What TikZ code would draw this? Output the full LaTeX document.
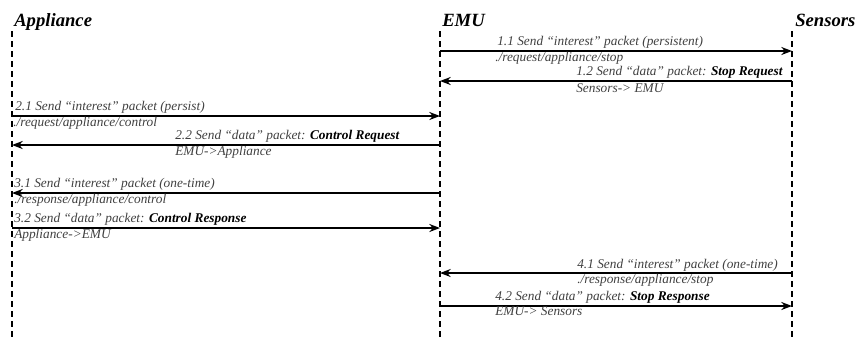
\documentclass[tikz,border=0pt]{standalone}
\usepackage{fontspec}
\setmainfont{Liberation Serif}
\usetikzlibrary{arrows.meta}
\begin{document}
\begin{tikzpicture}[x=0.75pt,y=-0.75pt,
 title/.style={font=\fontsize{14}{16}\selectfont\bfseries\itshape, anchor=base west, inner sep=0},
 lifeline/.style={line width=1.5pt, dash pattern=on 4.5pt off 3pt},
 msg/.style={line width=2pt, -{Stealth[length=8pt,width=6pt]}},
 lbl/.style={font=\fontsize{10}{12}\selectfont\itshape, text=black!75, anchor=base west, inner sep=0}]
\useasboundingbox (0,0) rectangle (857,337);
% titles
\node[title] (app) at (14,26) {Appliance};
\node[title] (emu) at (442,26) {EMU};
\node[title] (sen) at (795,26) {Sensors};
% lifelines
\coordinate (appT) at (12,31); \coordinate (appB) at (12,337);
\coordinate (emuT) at (440,31); \coordinate (emuB) at (440,337);
\coordinate (senT) at (792,31); \coordinate (senB) at (792,337);
\draw[lifeline] (appT) -- (appB);
\draw[lifeline] (emuT) -- (emuB);
\draw[lifeline] (senT) -- (senB);
% message endpoints
\coordinate (e11) at (440,51); \coordinate (s11) at (792,51);
\coordinate (e12) at (440,81); \coordinate (s12) at (792,81);
\coordinate (a21) at (12,116); \coordinate (e21) at (440,116);
\coordinate (a22) at (12,145); \coordinate (e22) at (440,145);
\coordinate (a31) at (12,193); \coordinate (e31) at (440,193);
\coordinate (a32) at (12,228); \coordinate (e32) at (440,228);
\coordinate (e41) at (440,273); \coordinate (s41) at (792,273);
\coordinate (e42) at (440,306); \coordinate (s42) at (792,306);
% messages
\draw[msg] (e11) -- (s11);
\draw[msg] (s12) -- (e12);
\draw[msg] (a21) -- (e21);
\draw[msg] (e22) -- (a22);
\draw[msg] (e31) -- (a31);
\draw[msg] (a32) -- (e32);
\draw[msg] (s41) -- (e41);
\draw[msg] (e42) -- (s42);
% labels
\node[lbl] (l11) at (497,45) {1.1 Send “interest” packet (persistent)};
\node[lbl] (p11) at (495,61) {./request/appliance/stop};
\node[lbl] (l12) at (576,75) {1.2 Send “data” packet: \textbf{\color{black}Stop Request}};
\node[lbl] (p12) at (576,92) {Sensors-> EMU};
\node[lbl] (l21) at (15,110) {2.1 Send “interest” packet (persist)};
\node[lbl] (p21) at (13,126) {./request/appliance/control};
\node[lbl] (l22) at (175,139) {2.2 Send “data” packet: \textbf{\color{black}Control Request}};
\node[lbl] (p22) at (175,155) {EMU->Appliance};
\node[lbl] (l31) at (14,187) {3.1 Send “interest” packet (one-time)};
\node[lbl] (p31) at (14,203) {./response/appliance/control};
\node[lbl] (l32) at (14,222) {3.2 Send “data” packet: \textbf{\color{black}Control Response}};
\node[lbl] (p32) at (14,238) {Appliance->EMU};
\node[lbl] (l41) at (577,268) {4.1 Send “interest” packet (one-time)};
\node[lbl] (p41) at (577,283) {./response/appliance/stop};
\node[lbl] (l42) at (495,300) {4.2 Send “data” packet: \textbf{\color{black}Stop Response}};
\node[lbl] (p42) at (495,315) {EMU-> Sensors};
\end{tikzpicture}
\end{document}
